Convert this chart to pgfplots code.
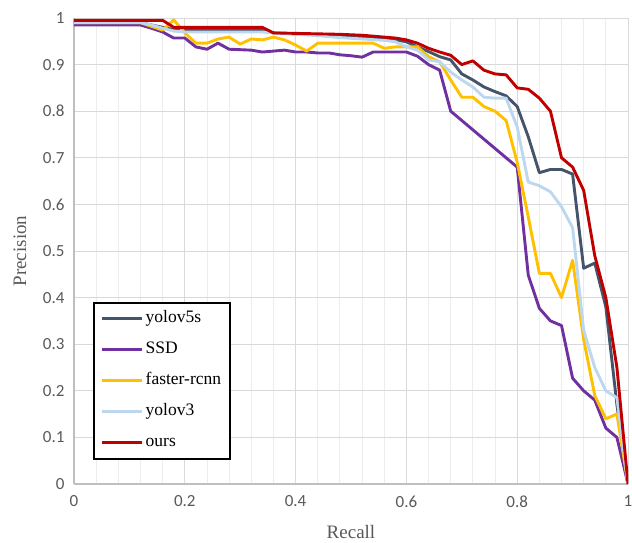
\documentclass[border=0pt]{standalone}
\usepackage{pgfplots}
\pgfplotsset{compat=1.18}
\usepackage{fontspec}
\setmainfont{Liberation Serif}
\newfontfamily\tickfont{Carlito}
\definecolor{cslate}{HTML}{44546A}
\definecolor{cssd}{HTML}{7030A0}
\definecolor{cfrc}{HTML}{FFC000}
\definecolor{cyv3}{HTML}{BDD7EE}
\definecolor{cours}{HTML}{C00000}
\definecolor{ctick}{HTML}{595959}
\definecolor{cgrid}{HTML}{D9D9D9}
\definecolor{cmgrid}{HTML}{EDEDED}
\definecolor{caxis}{HTML}{BFBFBF}
\begin{document}
\begin{tikzpicture}
\begin{axis}[
  scale only axis,
  width=554pt, height=466pt,
  xmin=0, xmax=1, ymin=0, ymax=1,
  xtick={0,0.2,0.4,0.6,0.8,1},
  ytick={0,0.1,0.2,0.3,0.4,0.5,0.6,0.7,0.8,0.9,1},
  minor x tick num=4,
  xmajorgrids, ymajorgrids, xminorgrids,
  major grid style={draw=cgrid, line width=0.9pt},
  minor grid style={draw=cmgrid, line width=0.9pt},
  axis x line*=bottom, axis y line*=left,
  axis line style={draw=caxis, line width=1.2pt, -},
  major tick length=0pt, minor tick length=0pt,
  /pgf/number format/assume math mode=true,
  tick label style={font=\tickfont\fontsize{17}{18}\selectfont, text=ctick},
  yticklabel shift=6pt,
  xticklabel shift=8pt,
  xlabel={Recall}, ylabel={Precision},
  label style={font=\fontsize{19}{22}\selectfont, text=ctick},
  x label style={at={(axis description cs:0.5,-0.102)}, anchor=center},
  y label style={at={(axis description cs:-0.0975,0.5)}, anchor=center},
  no markers,
  every axis plot/.append style={line width=2.9pt, line join=round},
  legend cell align=left,
  legend image code/.code={\draw[#1] (0pt,0pt) -- (40pt,0pt);},
  legend style={at={(0.0343,0.3906)}, anchor=north west, draw=black, line width=1.6pt, fill=white,
    font=\fontsize{17.5}{20}\selectfont, row sep=11pt, inner xsep=7pt, inner ysep=6pt,
    nodes={inner sep=2pt, text height=12pt, text depth=4pt}},
]
% yolov5s
\addplot[cslate] coordinates {
(0,0.99)(0.12,0.99)(0.14,0.985)(0.16,0.98)(0.18,0.975)(0.20,0.973)(0.34,0.973)(0.36,0.968)(0.40,0.966)(0.44,0.964)(0.48,0.962)(0.52,0.959)(0.56,0.956)(0.58,0.953)(0.60,0.949)(0.62,0.938)(0.64,0.928)(0.66,0.917)(0.68,0.91)(0.70,0.88)(0.72,0.867)(0.74,0.852)(0.76,0.842)(0.78,0.833)(0.80,0.81)(0.82,0.745)(0.84,0.668)(0.86,0.675)(0.88,0.675)(0.90,0.665)(0.92,0.463)(0.94,0.474)(0.96,0.38)(0.98,0.17)(1.0,0)};
\addlegendentry{yolov5s}
% SSD
\addplot[cssd] coordinates {
(0,0.985)(0.12,0.985)(0.14,0.978)(0.16,0.97)(0.18,0.957)(0.20,0.957)(0.22,0.938)(0.24,0.933)(0.26,0.946)(0.28,0.933)(0.30,0.932)(0.32,0.931)(0.34,0.927)(0.36,0.929)(0.38,0.931)(0.40,0.927)(0.42,0.927)(0.44,0.925)(0.46,0.925)(0.48,0.921)(0.50,0.919)(0.52,0.916)(0.54,0.927)(0.56,0.927)(0.58,0.927)(0.60,0.927)(0.62,0.918)(0.64,0.90)(0.66,0.888)(0.68,0.80)(0.70,0.78)(0.72,0.76)(0.74,0.74)(0.76,0.72)(0.78,0.70)(0.80,0.68)(0.82,0.448)(0.84,0.377)(0.86,0.35)(0.88,0.34)(0.90,0.227)(0.92,0.20)(0.94,0.18)(0.96,0.12)(0.98,0.10)(1.0,0)};
\addlegendentry{SSD}
% faster-rcnn
\addplot[cfrc] coordinates {
(0,0.99)(0.12,0.99)(0.14,0.982)(0.16,0.974)(0.18,0.996)(0.20,0.968)(0.22,0.946)(0.24,0.946)(0.26,0.955)(0.28,0.959)(0.30,0.944)(0.32,0.955)(0.34,0.953)(0.36,0.959)(0.38,0.953)(0.40,0.942)(0.42,0.929)(0.44,0.946)(0.46,0.946)(0.48,0.946)(0.50,0.946)(0.52,0.946)(0.54,0.946)(0.56,0.935)(0.58,0.938)(0.60,0.938)(0.62,0.938)(0.64,0.917)(0.66,0.906)(0.68,0.867)(0.70,0.83)(0.72,0.83)(0.74,0.81)(0.76,0.80)(0.78,0.78)(0.80,0.69)(0.82,0.573)(0.84,0.452)(0.86,0.452)(0.88,0.40)(0.90,0.48)(0.92,0.31)(0.94,0.19)(0.96,0.14)(0.98,0.15)(1.0,0)};
\addlegendentry{faster-rcnn}
% yolov3
\addplot[cyv3] coordinates {
(0,0.99)(0.12,0.99)(0.14,0.985)(0.16,0.978)(0.18,0.972)(0.20,0.97)(0.34,0.97)(0.36,0.968)(0.40,0.965)(0.44,0.962)(0.48,0.958)(0.52,0.955)(0.56,0.952)(0.58,0.949)(0.60,0.938)(0.62,0.931)(0.64,0.91)(0.66,0.906)(0.68,0.884)(0.70,0.867)(0.72,0.852)(0.74,0.83)(0.76,0.828)(0.78,0.828)(0.80,0.766)(0.82,0.648)(0.84,0.64)(0.86,0.627)(0.88,0.595)(0.90,0.55)(0.92,0.33)(0.94,0.25)(0.96,0.20)(0.98,0.185)(1.0,0)};
\addlegendentry{yolov3}
% ours
\addplot[cours] coordinates {
(0,0.995)(0.16,0.995)(0.18,0.98)(0.34,0.98)(0.36,0.968)(0.40,0.967)(0.44,0.966)(0.48,0.965)(0.52,0.963)(0.54,0.961)(0.56,0.959)(0.58,0.957)(0.60,0.953)(0.62,0.946)(0.64,0.935)(0.66,0.927)(0.68,0.92)(0.70,0.90)(0.72,0.908)(0.74,0.888)(0.76,0.88)(0.78,0.878)(0.80,0.85)(0.82,0.847)(0.84,0.828)(0.86,0.80)(0.88,0.70)(0.90,0.68)(0.92,0.63)(0.94,0.49)(0.96,0.40)(0.98,0.25)(1.0,0)};
\addlegendentry{ours}
\end{axis}
\pgfresetboundingbox
\useasboundingbox (-74pt,-58pt) rectangle (558pt,484pt);
\end{tikzpicture}
\end{document}
